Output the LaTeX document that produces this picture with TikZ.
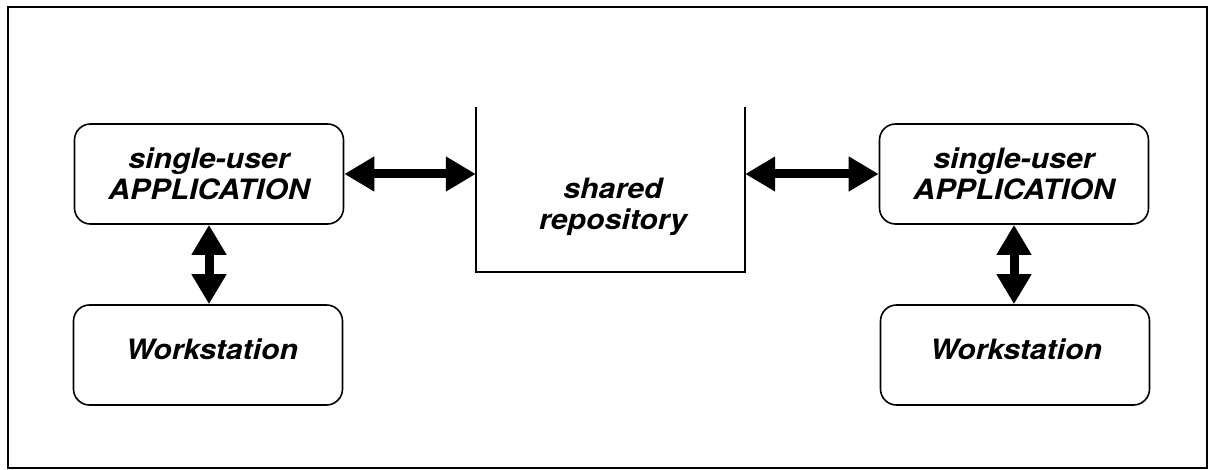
\documentclass[tikz,border=0pt]{standalone}
\usepackage{fontspec}
\newfontfamily\lblfont[FakeStretch=1.08]{TeX Gyre Heros}
\usetikzlibrary{arrows.meta}
\begin{document}
\begin{tikzpicture}[x=1pt,y=-1pt,
  box/.style={draw,line width=1.6pt,rounded corners=16pt,minimum width=269pt,minimum height=100pt,inner sep=0pt},
  lbl/.style={font=\lblfont\bfseries\itshape\fontsize{28}{31}\selectfont,align=center,inner sep=0pt},
  fat/.style={line width=9pt,{Triangle[width=33pt,length=30pt]}-{Triangle[width=33pt,length=30pt]}},
  repo/.style={minimum width=269pt,minimum height=165pt,inner sep=0pt}]
\useasboundingbox (0,0) rectangle (1217,470);
\draw[line width=1.6pt] (8,7) rectangle (1207,468);
% left side
\node[box,lbl] (lapp) at (209,174) {single-user\\APPLICATION};
\node[box] (lws) at (208,355) {};
\node[lbl] (lwst) at (212,349) {Workstation};
% right side
\node[box,lbl] (rapp) at (1014,174) {single-user\\APPLICATION};
\node[box] (rws) at (1015,355) {};
\node[lbl] (rwst) at (1016,349) {Workstation};
% shared repository
\node[repo] (repo) at (610.5,189.5) {};
\draw[line width=1.6pt] (repo.north west) -- (repo.south west) -- (repo.south east) -- (repo.north east);
\node[lbl] (repot) at (613,207) {shared\\repository};
% arrows
\draw[fat] (lapp.east) -- (lapp.east -| repo.west);
\draw[fat] (rapp.west -| repo.east) -- (rapp.west);
\draw[fat] (lapp.south) -- (lapp.south |- lws.north);
\draw[fat] (rapp.south) -- (rapp.south |- rws.north);
\end{tikzpicture}
\end{document}
